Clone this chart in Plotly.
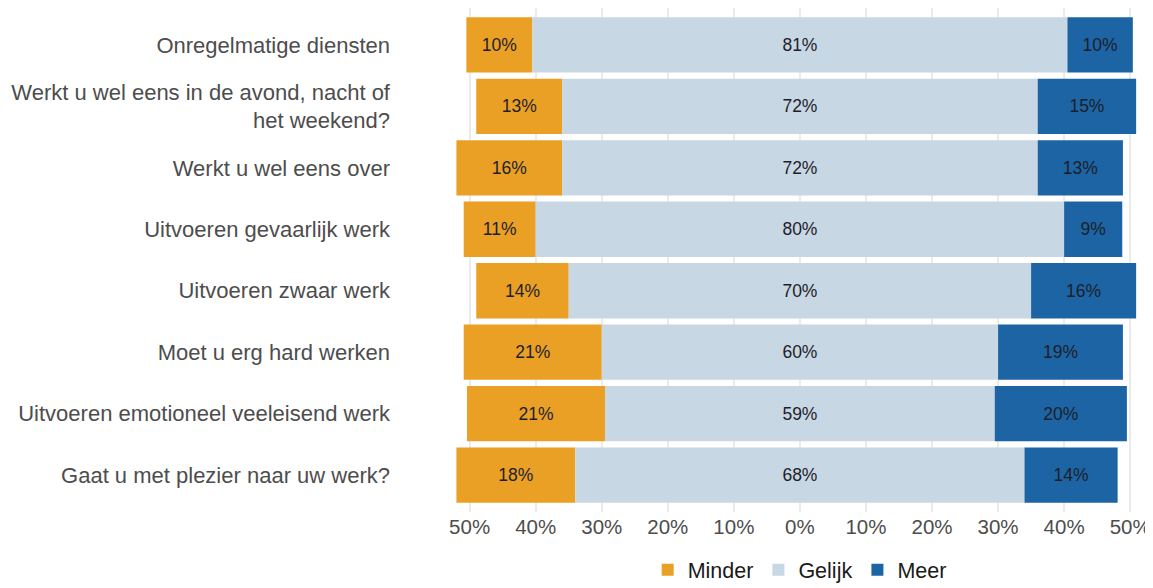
import plotly.graph_objects as go

# Vragen (van boven naar beneden) en aandelen per antwoord, in procenten.
vragen = [
    "Onregelmatige diensten",
    "Werkt u wel eens in de avond, nacht of<br>het weekend?",
    "Werkt u wel eens over",
    "Uitvoeren gevaarlijk werk",
    "Uitvoeren zwaar werk",
    "Moet u erg hard werken",
    "Uitvoeren emotioneel veeleisend werk",
    "Gaat u met plezier naar uw werk?",
]
minder = [10, 13, 16, 10.9, 14, 20.9, 20.9, 18]
gelijk = [81, 72, 72, 80, 70, 60, 59, 68]
meer = [9.9, 14.9, 12.9, 8.8, 15.9, 18.9, 20, 14.1]

tick_vals = [-50, -40, -30, -20, -10, 0, 10, 20, 30, 40, 50]
tick_text = ["50%", "40%", "30%", "20%", "10%", "0%", "10%", "20%", "30%", "40%", "50%"]

# Kleuren per antwoord.
kleuren = {"Minder": "#EAA024", "Gelijk": "#C8D7E4", "Meer": "#1C64A4"}
font_family = "Liberation Sans, Arial, sans-serif"

# De "Gelijk" balk ligt gecentreerd rond 0, de rest sluit erop aan.
half = [g / 2 for g in gelijk]
base_minder = [-h - m for h, m in zip(half, minder)]
base_gelijk = [-h for h in half]
base_meer = half

fig = go.Figure()
for naam, waarden, basis in [
    ("Minder", minder, base_minder),
    ("Gelijk", gelijk, base_gelijk),
    ("Meer", meer, base_meer),
]:
    fig.add_bar(
        y=vragen,
        x=waarden,
        base=basis,
        orientation="h",
        name=naam,
        marker_color=kleuren[naam],
        marker_line_width=0,
        texttemplate="%{x:.0f}%",
        textposition="inside",
        insidetextanchor="middle",
        textfont=dict(family=font_family, size=17.5, color="#1E1E2A"),
        hoverinfo="skip",
    )

# The page body adds an 8px offset, so the figure is 8px smaller each way.
fig.update_layout(
    width=1145,
    height=580,
    barmode="overlay",
    bargap=0.1,
    plot_bgcolor="white",
    paper_bgcolor="white",
    font=dict(family=font_family, size=22, color="#4D4D4D"),
    margin=dict(l=387, r=3, t=0, b=76, autoexpand=False),
    showlegend=True,
    legend=dict(
        orientation="h",
        x=0.536,
        xanchor="center",
        y=-0.074,
        yanchor="top",
        font=dict(size=21.5, color="#1A1A1A"),
        traceorder="normal",
    ),
    uniformtext=dict(minsize=17, mode="show"),
)

fig.update_xaxes(
    range=[-61.3, 53],
    tickvals=tick_vals,
    ticktext=tick_text,
    showgrid=True,
    gridcolor="#EBEBEB",
    gridwidth=1.5,
    zeroline=False,
    showline=False,
    tickfont=dict(size=20.5, color="#4D4D4D"),
)
fig.update_yaxes(
    range=[7.6, -0.6],
    showgrid=False,
    zeroline=False,
    showline=False,
    ticklabelstandoff=4,
    tickfont=dict(size=22, color="#4D4D4D"),
)

fig.write_html("out.html")
